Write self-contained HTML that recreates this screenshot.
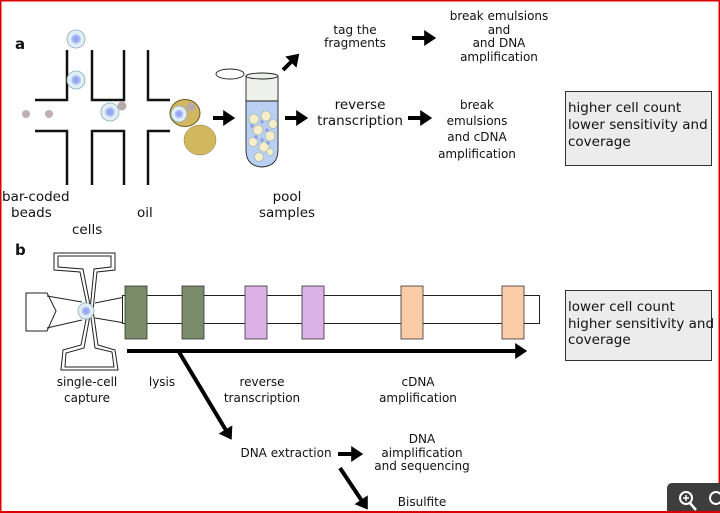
<!DOCTYPE html>
<html><head><meta charset="utf-8"><style>
html,body{margin:0;padding:0;background:#fff;}
svg{display:block;}
text{font-family:"DejaVu Sans","Liberation Sans",sans-serif;font-size:12px;fill:#111;}
.b{font-size:13.5px;}
</style></head><body>
<svg width="720" height="513" viewBox="0 0 720 513" xmlns="http://www.w3.org/2000/svg">
<defs>
<marker id="ah" markerWidth="4" markerHeight="4" refX="2.2" refY="2" orient="auto" markerUnits="strokeWidth"><path d="M0,0 L3,2 L0,4 z" fill="#000"/></marker>
<radialGradient id="cell"><stop offset="0" stop-color="#8a9ef0"/><stop offset="0.45" stop-color="#aab8f5"/><stop offset="0.55" stop-color="#dcecf5"/><stop offset="1" stop-color="#e4f0f5"/></radialGradient>
</defs>
<rect x="0.5" y="0.5" width="719" height="512" fill="#fff" stroke="#d00" stroke-width="2"/>
<text x="15" y="49" style="font-weight:bold;font-size:15px">a</text>
<g stroke="#111" stroke-width="2.5" fill="none">
<path d="M35,100 H67 V50 M92,50 V100 H124 V50 M148,50 V100 H170"/>
<path d="M35,131 H67 V185 M92,185 V131 H124 V185 M148,185 V131 H170"/>
</g>
<g stroke="#8ab" stroke-width="0.8">
<circle cx="76" cy="39" r="9" fill="url(#cell)"/>
<circle cx="76" cy="80" r="9" fill="url(#cell)"/>
<circle cx="110" cy="112" r="9" fill="url(#cell)"/>
</g>
<circle cx="122" cy="106" r="4.5" fill="#b9aaaa"/>
<circle cx="26" cy="114" r="4" fill="#c0b0b0"/>
<circle cx="49" cy="114" r="4" fill="#c0b0b0"/>
<ellipse cx="185" cy="113" rx="15" ry="13.5" fill="#d2b760" stroke="#6a5a20"/>
<circle cx="179" cy="114" r="8" fill="url(#cell)" stroke="#8ab" stroke-width="0.8"/>
<circle cx="191" cy="107" r="4.5" fill="#b9aaaa"/>
<ellipse cx="200" cy="140" rx="16" ry="15" fill="#d2b760" stroke="#8a7a40" stroke-width="0.5"/>
<g stroke="#000" stroke-width="4" fill="none" marker-end="url(#ah)">
<line x1="213" y1="118" x2="232" y2="118"/>
<line x1="285" y1="118" x2="305" y2="118"/>
<line x1="283" y1="70" x2="297" y2="56"/>
<line x1="412" y1="38" x2="433" y2="38"/>
<line x1="408" y1="118" x2="429" y2="118"/>
<line x1="127" y1="351" x2="524" y2="351"/>
<line x1="179" y1="352" x2="230" y2="437"/>
<line x1="338" y1="454" x2="360" y2="454"/>
<line x1="340" y1="468" x2="366" y2="507"/>
</g>
<ellipse cx="230" cy="74" rx="14" ry="5" fill="none" stroke="#222" stroke-width="0.9"/>
<path d="M246,76 V101 H278 V76 Z" fill="#eef0ec" stroke="#222" stroke-width="0.9"/>
<path d="M246,101 H278 V150 Q278,166 262,167 Q246,166 246,150 Z" fill="#b9d0f2" stroke="#222" stroke-width="0.9"/>
<ellipse cx="262" cy="76" rx="16" ry="3" fill="#eef0ec" stroke="#222" stroke-width="0.9"/>
<g fill="#f6eec8" stroke="#9aa" stroke-width="0.6">
<circle cx="254" cy="119" r="5"/><circle cx="266" cy="116" r="5"/><circle cx="273" cy="124" r="4.5"/><circle cx="258" cy="130" r="5"/><circle cx="270" cy="136" r="5"/><circle cx="253" cy="142" r="4.5"/><circle cx="264" cy="147" r="5"/><circle cx="259" cy="157" r="4.5"/><circle cx="270" cy="152" r="3.5"/>
</g>
<g fill="#8c9ae0"><circle cx="262" cy="122" r="1.6"/><circle cx="267" cy="130" r="1.6"/><circle cx="256" cy="137" r="1.6"/><circle cx="262" cy="140" r="1.6"/><circle cx="252" cy="126" r="1.6"/><circle cx="268" cy="143" r="1.6"/></g>
<g text-anchor="middle">
<text x="355" y="34">tag the</text><text x="355" y="47">fragments</text>
<text x="499" y="20">break emulsions</text><text x="499" y="34">and</text><text x="499" y="47">and DNA</text><text x="499" y="61">amplification</text>
<text x="360" y="109" class="b">reverse</text><text x="360" y="125" class="b">transcription</text>
<text x="477" y="109">break</text><text x="477" y="125">emulsions</text><text x="477" y="141">and cDNA</text><text x="477" y="158">amplification</text>
<text x="287" y="201" class="b">pool</text><text x="287" y="217" class="b">samples</text>
</g>
<text x="2" y="201" class="b">bar-coded</text><text x="11" y="217" class="b">beads</text>
<text x="72" y="234" class="b">cells</text><text x="137" y="217" class="b">oil</text>
<rect x="565.5" y="91.5" width="146" height="74" fill="#ececec" stroke="#333"/>
<text x="568" y="112" class="b">higher cell count</text><text x="568" y="129" class="b">lower sensitivity and</text><text x="568" y="146" class="b">coverage</text>
<text x="15" y="255" style="font-weight:bold;font-size:15px">b</text>
<g fill="#fff" stroke="#222" stroke-width="1">
<path d="M54,253 H115 V270 L97,272 L93,310 L98,345 L115,350 L118,370 H61 L63,350 L81,345 L88,310 L80,272 L54,270 Z"/>
<path d="M58,256 H111 V267 L94,269 L90,310 L95,348 L112,352 L114,367 H65 L66,353 L84,348 L91,310 L83,269 L58,267 Z" fill="none"/>
<path d="M26,293 H47 L56,311 L47,331 H26 Z"/>
<path d="M47,296 L82,302 M47,328 L82,320 M95,303 L125,297 M95,318 L125,323" fill="none"/>
<rect x="122.5" y="295.5" width="417" height="28"/>
</g>
<ellipse cx="86" cy="311" rx="8" ry="8" fill="url(#cell)" stroke="#8ab" stroke-width="0.8"/>
<g stroke="#333" stroke-width="0.8">
<rect x="125" y="286" width="22" height="53" fill="#7b8c6b"/>
<rect x="182" y="286" width="22" height="53" fill="#7b8c6b"/>
<rect x="245" y="286" width="22" height="53" fill="#dcb2e6"/>
<rect x="302" y="286" width="22" height="53" fill="#dcb2e6"/>
<rect x="401" y="286" width="22" height="53" fill="#fccca8"/>
<rect x="502" y="286" width="22" height="53" fill="#fccca8"/>
</g>
<rect x="565.5" y="290.5" width="146" height="70" fill="#ececec" stroke="#333"/>
<text x="568" y="311" class="b">lower cell count</text><text x="568" y="328" class="b">higher sensitivity and</text><text x="568" y="344" class="b">coverage</text>
<g text-anchor="middle">
<text x="87" y="386">single-cell</text><text x="87" y="402">capture</text>
<text x="162" y="386">lysis</text>
<text x="262" y="386">reverse</text><text x="262" y="402">transcription</text>
<text x="418" y="386">cDNA</text><text x="418" y="402">amplification</text>
<text x="286" y="457">DNA extraction</text>
<text x="422" y="443">DNA</text><text x="422" y="457">aimplification</text><text x="422" y="470">and sequencing</text>
<text x="422" y="506">Bisulfite</text>
</g>
<rect x="667" y="483" width="60" height="36" rx="5" fill="#3d3d3d"/>
<circle cx="686" cy="498" r="6" fill="none" stroke="#fff" stroke-width="2"/>
<line x1="690" y1="503" x2="696" y2="510" stroke="#fff" stroke-width="2.5"/>
<path d="M683,498 H689 M686,495 V501" stroke="#fff" stroke-width="1.5"/>
<circle cx="716" cy="498" r="6" fill="none" stroke="#fff" stroke-width="2"/>
<line x1="0" y1="512" x2="720" y2="512" stroke="#d00" stroke-width="2"/>
</svg>
</body></html>
